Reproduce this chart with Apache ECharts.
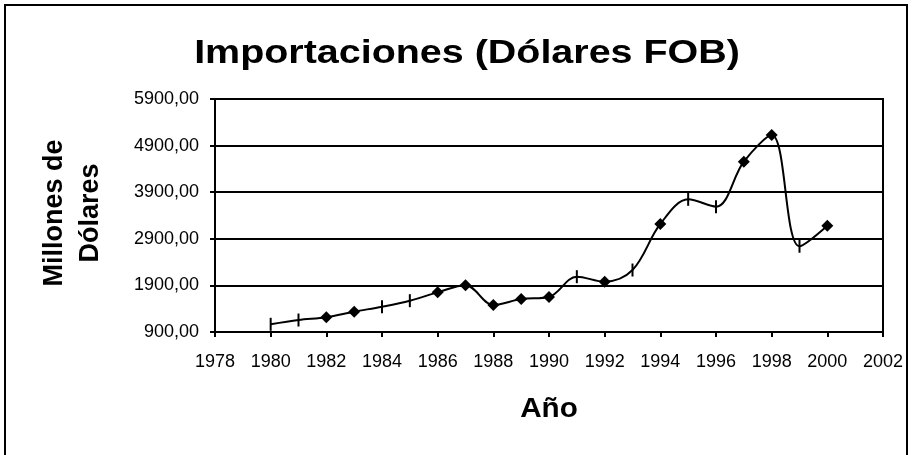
<!DOCTYPE html>
<html>
<head>
<meta charset="utf-8">
<script src="https://cdn.jsdelivr.net/npm/echarts@6/dist/echarts.min.js"></script>
<style>
  html, body { margin: 0; padding: 0; background: #fff; }
  #chart { width: 913px; height: 455px; }
</style>
</head>
<body>
<div id="chart"></div>
<script>
// años y valores (millones de dólares)
const years = [1980, 1981, 1982, 1983, 1984, 1985, 1986, 1987, 1988, 1989, 1990,
               1991, 1992, 1993, 1994, 1995, 1996, 1997, 1998, 1999, 2000];
const imports = [1065, 1157, 1215, 1336, 1443, 1572, 1751, 1905, 1479, 1608, 1652,
                 2087, 1980, 2230, 3218, 3747, 3590, 4555, 5127, 2740, 3181];
// puntos que se ven con marcador de raya en el original
const dashYears = [1980, 1981, 1984, 1985, 1991, 1993, 1995, 1996, 1999];

const yTicks = [900, 1900, 2900, 3900, 4900, 5900];
const xTicks = [1978, 2002];

const font = 'Liberation Sans, Arial, sans-serif';
const dash = 'path://M0,0 L1,0 L1,10 L0,10 Z';

const points = years.map((y, i) => {
    const isDash = dashYears.indexOf(y) >= 0;
    return {
        value: [y, imports[i]],
        symbol: isDash ? dash : 'diamond',
        symbolSize: isDash ? [2, 13] : [12, 12]
    };
});

let myChart = echarts.init(document.getElementById('chart'));
let option = {
    backgroundColor: '#fff',
    animation: false,
    grid: {
        left: 215,
        right: 30,
        top: 99,
        bottom: 123,
        show: true,
        borderColor: '#000',
        borderWidth: 2
    },
    xAxis: {
        type: 'value',
        min: xTicks[0],
        max: xTicks[1],
        interval: 2,
        axisLine: { lineStyle: { color: '#000', width: 2 } },
        axisTick: { show: true, length: 5, lineStyle: { color: '#000', width: 2 } },
        axisLabel: {
            color: '#000', fontFamily: font, fontSize: 18, margin: 21,
            formatter: v => String(v)
        },
        splitLine: { show: false }
    },
    yAxis: {
        type: 'value',
        min: yTicks[0],
        max: yTicks[yTicks.length - 1],
        interval: 1000,
        axisLine: { show: true, lineStyle: { color: '#000', width: 2 } },
        axisTick: { show: true, length: 5, lineStyle: { color: '#000', width: 2 } },
        axisLabel: {
            color: '#000', fontFamily: font, fontSize: 18, margin: 16,
            formatter: v => v.toFixed(2).replace('.', ',')
        },
        splitLine: { lineStyle: { color: '#000', width: 2 } }
    },
    series: [{
        type: 'line',
        data: points,
        smooth: 0.35,
        showAllSymbol: true,
        lineStyle: { color: '#000', width: 2 },
        itemStyle: { color: '#000' }
    }],
    graphic: [
        {
            type: 'rect',
            shape: { x: 5, y: 5, width: 902, height: 452 },
            style: { fill: 'none', stroke: '#000', lineWidth: 2 },
            silent: true, z: -1
        },
        {
            type: 'text',
            x: 467, y: 54,
            scaleX: 1.16,
            style: {
                text: 'Importaciones (Dólares FOB)',
                font: 'bold 34px ' + font,
                fill: '#000',
                textAlign: 'center',
                textVerticalAlign: 'middle'
            }
        },
        {
            type: 'text',
            x: 73, y: 213,
            rotation: Math.PI / 2,
            style: {
                text: 'Millones de\nDólares',
                font: 'bold 27px ' + font,
                lineHeight: 36,
                fill: '#000',
                textAlign: 'center',
                textVerticalAlign: 'middle'
            }
        },
        {
            type: 'text',
            x: 549, y: 410,
            scaleX: 1.1,
            style: {
                text: 'Año',
                font: 'bold 27px ' + font,
                fill: '#000',
                textAlign: 'center',
                textVerticalAlign: 'middle'
            }
        }
    ]
};
myChart.setOption(option, true);
</script>
</body>
</html>
